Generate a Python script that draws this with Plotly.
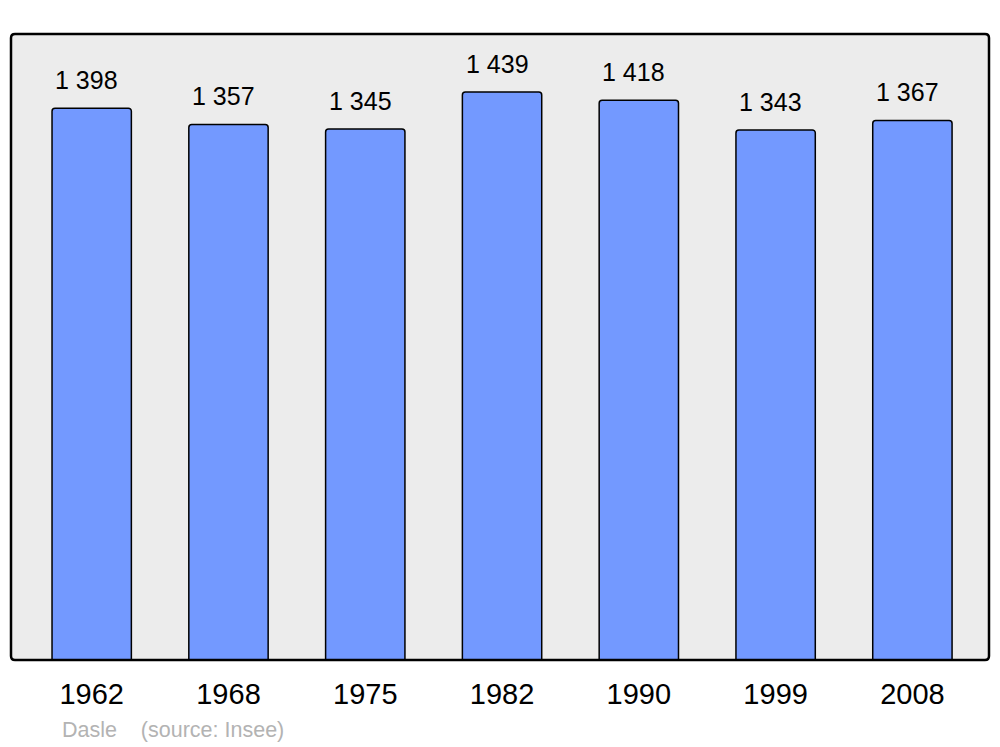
import plotly.graph_objects as go

years = ["1962", "1968", "1975", "1982", "1990", "1999", "2008"]
population = [1398, 1357, 1345, 1439, 1418, 1343, 1367]
labels = ["1 398", "1 357", "1 345", "1 439", "1 418", "1 343", "1 367"]

FONT = "Liberation Sans, Arial, sans-serif"

fig = go.Figure()
fig.add_trace(go.Bar(
    x=years, y=population, width=0.58,
    marker=dict(color="#7399ff", line=dict(color="#000000", width=1.5), cornerradius=3),
    hoverinfo="skip",
))

for i, (v, lab) in enumerate(zip(population, labels)):
    fig.add_annotation(x=i, y=v, text=lab, showarrow=False, yanchor="bottom",
                       yshift=12, xshift=-5,
                       font=dict(size=25, color="#000000", family=FONT))

# rounded frame
rx, ry = 4 / 978, 4 / 626
path = (f"M {rx},0 L {1-rx},0 Q 1,0 1,{ry} L 1,{1-ry} Q 1,1 {1-rx},1 "
        f"L {rx},1 Q 0,1 0,{1-ry} L 0,{ry} Q 0,0 {rx},0 Z")
fig.add_shape(type="path", xref="paper", yref="paper", path=path,
              line=dict(color="#000000", width=2.5), layer="above")
fig.add_shape(type="path", xref="paper", yref="paper", path=path,
              fillcolor="#ececec", line=dict(width=0), layer="below")

fig.add_annotation(xref="paper", yref="paper", x=49 / 978, y=-70 / 626, xanchor="left",
                   yanchor="middle", showarrow=False, text="Dasle    (source: Insee)",
                   font=dict(size=21.5, color="#b3b3b3", family=FONT))

# page body has an 8px margin; compensate so the figure fills 1000x747
fig.update_layout(
    width=992, height=739,
    margin=dict(l=3, r=11, t=26, b=87),
    paper_bgcolor="#ffffff", plot_bgcolor="rgba(0,0,0,0)",
    showlegend=False,
    font=dict(family=FONT, color="#000000"),
    xaxis=dict(type="category", range=[-0.59, 6.56], showgrid=False, zeroline=False,
               showline=False, ticks="", tickfont=dict(size=29), ticklabelstandoff=14),
    yaxis=dict(range=[0, 1586], showgrid=False, zeroline=False, showline=False,
               showticklabels=False, ticks=""),
)

fig.write_html("out.html")
